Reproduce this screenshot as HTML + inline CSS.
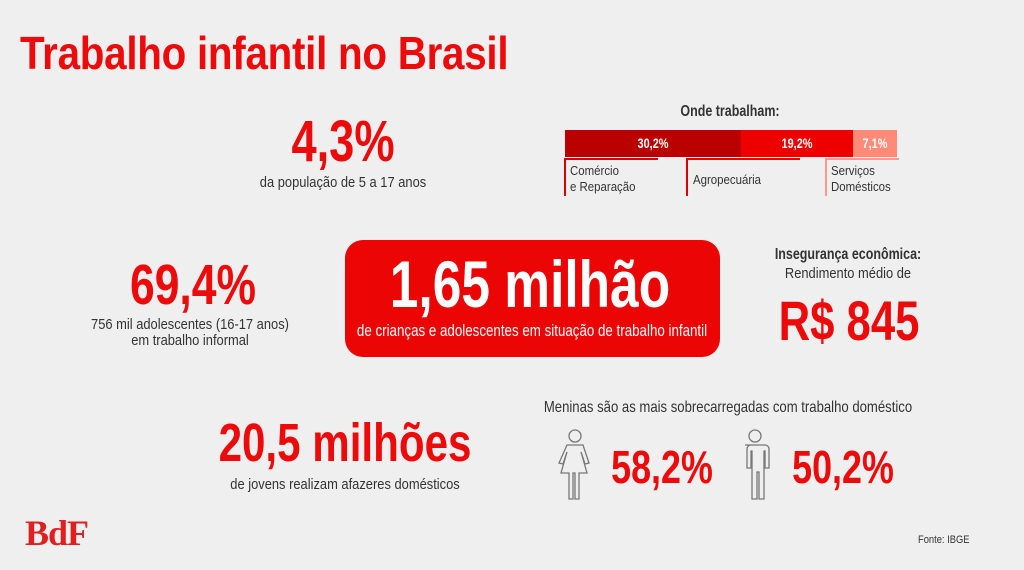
<!DOCTYPE html>
<html><head><meta charset="utf-8"><style>
body{margin:0;width:1024px;height:570px;background:#efefef;position:relative;overflow:hidden;font-family:"Liberation Sans",sans-serif}
.t{position:absolute;white-space:nowrap;transform-origin:50% 50%}
.c{transform:translateX(-50%) scaleX(.78)}
.s{transform:translateX(-50%) scaleX(.86)}
.r{color:#ec0a0a;font-weight:bold}
.g{color:#333;font-size:15px}
</style></head><body>
<div class="t r" style="left:20px;top:26px;font-size:46px;letter-spacing:-0.3px;transform-origin:0 50%;transform:scaleX(.877)">Trabalho infantil no Brasil</div>

<div class="t r c" style="left:343px;top:108px;font-size:58px">4,3%</div>
<div class="t g s" style="left:343px;top:174px">da população de 5 a 17 anos</div>

<div class="t c" style="left:730px;top:103px;font-size:16px;font-weight:bold;color:#333">Onde trabalham:</div>
<div style="position:absolute;left:565px;top:130px;width:176px;height:27px;background:#bb0000"></div>
<div style="position:absolute;left:741px;top:130px;width:112px;height:27px;background:#ee0000"></div>
<div style="position:absolute;left:853px;top:130px;width:44px;height:27px;background:#ff8a78"></div>
<div class="t c" style="left:653px;top:135px;font-size:14px;font-weight:bold;color:#fff">30,2%</div>
<div class="t c" style="left:797px;top:135px;font-size:14px;font-weight:bold;color:#fff">19,2%</div>
<div class="t c" style="left:875px;top:135px;font-size:14px;font-weight:bold;color:#fff">7,1%</div>
<div style="position:absolute;left:564px;top:158px;width:92px;height:36px;border-left:2px solid #dd0000;border-top:2px solid #dd0000"></div>
<div style="position:absolute;left:686px;top:158px;width:112px;height:36px;border-left:2px solid #dd0000;border-top:2px solid #ee0000"></div>
<div style="position:absolute;left:825px;top:158px;width:72px;height:36px;border-left:2px solid #ff9a8a;border-top:2px solid #ff9a8a"></div>
<div class="t" style="left:570px;top:163px;font-size:13px;color:#333;line-height:16px;transform-origin:0 0;transform:scaleX(.88)">Comércio<br>e Reparação</div>
<div class="t" style="left:693px;top:172px;font-size:13px;color:#333;transform-origin:0 0;transform:scaleX(.88)">Agropecuária</div>
<div class="t" style="left:831px;top:163px;font-size:13px;color:#333;line-height:16px;transform-origin:0 0;transform:scaleX(.88)">Serviços<br>Domésticos</div>

<div class="t r c" style="left:193px;top:252px;font-size:57px">69,4%</div>
<div class="t g s" style="left:190px;top:317px;text-align:center;line-height:16px">756 mil adolescentes (16-17 anos)<br>em trabalho informal</div>

<div style="position:absolute;left:345px;top:240px;width:375px;height:117px;background:#ec0505;border-radius:18px"></div>
<div class="t c" style="left:530px;top:246px;font-size:66px;font-weight:bold;color:#fff">1,65 milhão</div>
<div class="t" style="left:532px;top:321px;font-size:17px;color:#fff;transform:translateX(-50%) scaleX(.785)">de crianças e adolescentes em situação de trabalho infantil</div>

<div class="t c" style="left:848px;top:246px;font-size:16px;font-weight:bold;color:#333">Insegurança econômica:</div>
<div class="t s" style="left:848px;top:265px;font-size:15px;color:#333">Rendimento médio de</div>
<div class="t r c" style="left:849px;top:288px;font-size:56px">R$ 845</div>

<div class="t r c" style="left:345px;top:412px;font-size:54px">20,5 milhões</div>
<div class="t g s" style="left:345px;top:476px">de jovens realizam afazeres domésticos</div>

<div class="t" style="left:728px;top:399px;font-size:16px;color:#333;transform:translateX(-50%) scaleX(.82)">Meninas são as mais sobrecarregadas com trabalho doméstico</div>
<svg style="position:absolute;left:555px;top:428px" width="45" height="72" viewBox="0 0 45 72" fill="none" stroke="#777" stroke-width="1.3">
<circle cx="20" cy="8" r="6"/>
<path d="M12 17h16l6 18-4 1-4-12 6 21h-8v26h-4v-26h-2v26h-4v-26h-8l6-21-4 12-4-1z"/>
</svg>
<div class="t r c" style="left:662px;top:440px;font-size:46px">58,2%</div>
<svg style="position:absolute;left:738px;top:428px" width="40" height="72" viewBox="0 0 40 72" fill="none" stroke="#777" stroke-width="1.3">
<circle cx="17" cy="8" r="6"/>
<path d="M7 17h20a4 4 0 0 1 4 4v19h-4v-17h-1v48h-5v-27h-2v27h-5v-48h-1v17h-4v-19a4 4 0 0 1 4-4z"/>
</svg>
<div class="t r c" style="left:843px;top:440px;font-size:46px">50,2%</div>

<div class="t" style="left:25px;top:512px;font-family:'Liberation Serif',serif;font-weight:bold;font-size:36px;color:#e02020;letter-spacing:-1px">BdF</div>
<div class="t" style="left:918px;top:534px;font-size:11px;color:#333;transform-origin:0 50%;transform:scaleX(.85)">Fonte: IBGE</div>
</body></html>
